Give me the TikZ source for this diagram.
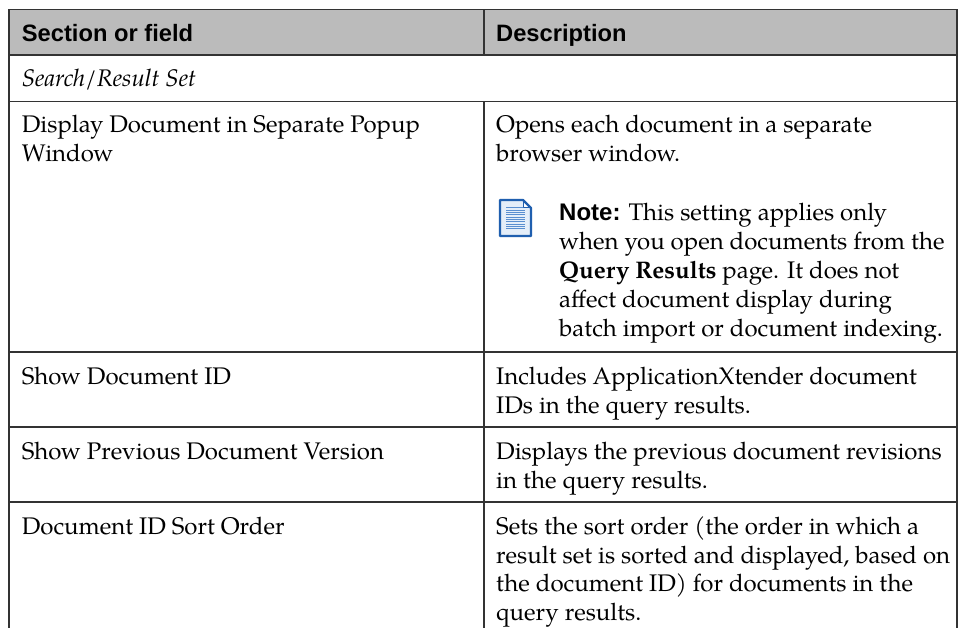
\documentclass[tikz,border=0pt]{standalone}
\usepackage{fontspec}
\newfontfamily\pal{texgyrepagella}[Extension=.otf,UprightFont=*-regular,BoldFont=*-bold,ItalicFont=*-italic,BoldItalicFont=*-bolditalic]
\newfontfamily\ari{Liberation Sans}
\definecolor{hdr}{HTML}{BBBBBB}
\definecolor{rulec}{HTML}{333333}
\definecolor{iconblue}{HTML}{1F5FAF}
\definecolor{iconmid}{HTML}{5A8FD0}
\definecolor{iconlight}{HTML}{E4EEF9}
\begin{document}
\begin{tikzpicture}[x=1pt,y=-1pt,
  cell/.style={anchor=base west, inner sep=0pt, font=\pal\fontsize{24}{28.7}\selectfont},
  headtext/.style={anchor=base west, inner sep=0pt, font=\ari\bfseries\fontsize{23.7}{28.7}\selectfont},
  gridline/.style={draw=rulec, line width=1.4pt}]
\useasboundingbox (0,0) rectangle (961,628);
\fill[white] (0,0) rectangle (961,628);
\begin{scope}
\clip (0,0) rectangle (961,628);
% header background
\fill[hdr] (9,9.3) rectangle (957,55);
% outer frame
\draw[gridline] (9,640) -- (9,9.3) -- (957,9.3) -- (957,640);
% horizontal rules
\foreach \yy in {55,101.5,352,427,502} {\draw[gridline] (9,\yy) -- (957,\yy);}
% column divider
\draw[gridline] (484,9.3) -- (484,55);
\draw[gridline] (484,101.5) -- (484,640);
\end{scope}

% header
\node[headtext] (h1) at (21.7,41.7) {Section or field};
\node[headtext] (h2) at (496,41.7) {Description};

% section row
\node[cell] (s1) at (21.7,87) {\itshape Search/Result Set};

% row 1
\node[cell] (a1) at (21.7,132.5) {Display Document in Separate Popup};
\node[cell] (a2) at (21.7,161.2) {Window};
\node[cell] (b1) at (496,132.5) {Opens each document in a separate};
\node[cell] (b2) at (496,161.2) {browser window.};

% note icon
\begin{scope}
\fill[iconlight] (500,200) -- (523,200) -- (531,208) -- (531,236) -- (500,236) -- cycle;
\foreach \k in {0,...,9} {\draw[iconmid, line width=1pt] (506,{208+2.3*\k}) -- (525,{208+2.3*\k});}
\fill[white] (523,200) -- (523,208) -- (531,208) -- cycle;
\draw[iconblue, line width=2.2pt, line join=round] (500,200) -- (523,200) -- (531,208) -- (531,236) -- (500,236) -- cycle;
\draw[iconblue, line width=1pt, line join=round] (523,200) -- (523,208) -- (531,208);
\end{scope}

\node[cell] (n1) at (559,221) {{\ari\bfseries Note:} This setting applies only};
\node[cell] (n2) at (559,250) {when you open documents from the};
\node[cell] (n3) at (559,278.5) {\textbf{Query Results} page. It does not};
\node[cell] (n4) at (559,307.5) {affect document display during};
\node[cell] (n5) at (559,336.5) {batch import or document indexing.};

% row 2
\node[cell] (c1) at (21.7,384.5) {Show Document ID};
\node[cell] (d1) at (496,384.5) {Includes ApplicationXtender document};
\node[cell] (d2) at (496,413) {IDs in the query results.};

% row 3
\node[cell] (e1) at (21.7,459.5) {Show Previous Document Version};
\node[cell] (f1) at (496,459.5) {Displays the previous document revisions};
\node[cell] (f2) at (496,488) {in the query results.};

% row 4
\node[cell] (g1) at (21.7,534.5) {Document ID Sort Order};
\node[cell] (k1) at (496,534.5) {Sets the sort order (the order in which a};
\node[cell] (k2) at (496,563) {result set is sorted and displayed, based on};
\node[cell] (k3) at (496,591.7) {the document ID) for documents in the};
\node[cell] (k4) at (496,620.4) {query results.};
\end{tikzpicture}
\end{document}
